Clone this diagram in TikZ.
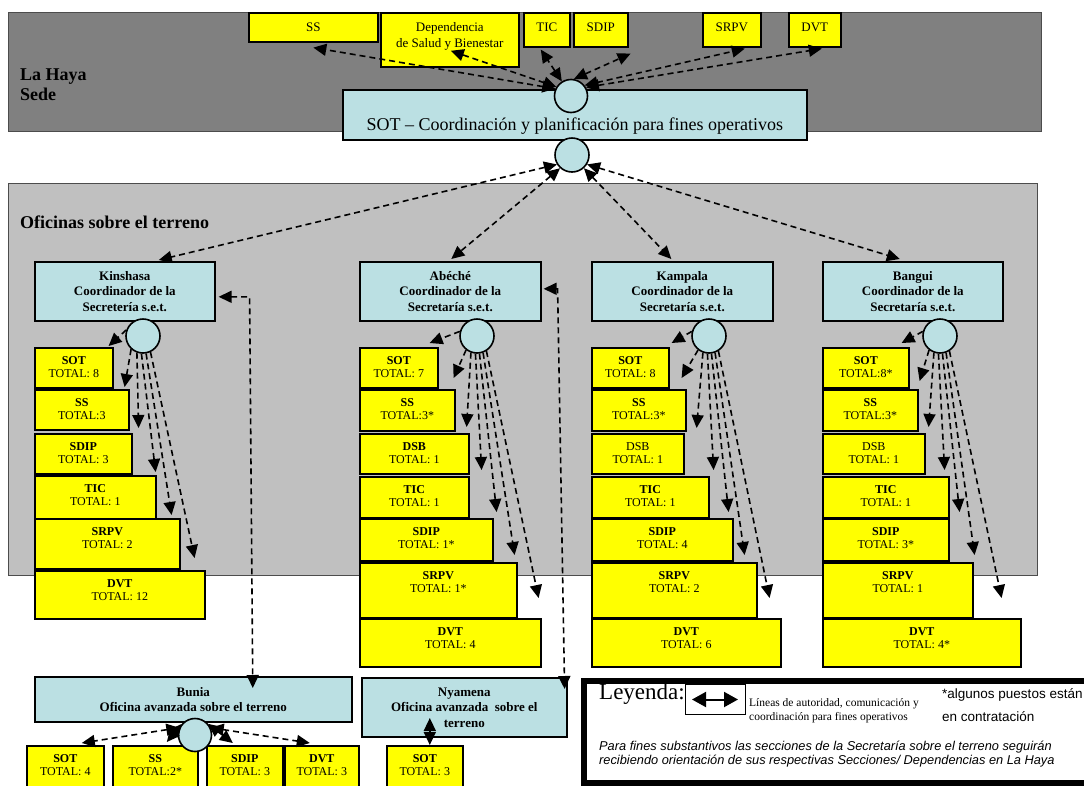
\documentclass[tikz,border=0pt]{standalone}
\usepackage{fontspec}
\setmainfont{Liberation Serif}
\setsansfont{Liberation Sans}
\usetikzlibrary{arrows.meta}

\definecolor{hqgray}{HTML}{808080}
\definecolor{fieldgray}{HTML}{C0C0C0}
\definecolor{paleblue}{HTML}{BBE0E3}
\definecolor{boxyellow}{HTML}{FFFF00}

\tikzset{
  zone/.style={draw=black!70, line width=0.8pt},
  ybox/.style={draw, fill=boxyellow, line width=1.6pt, inner sep=0pt,
    font=\fontsize{12}{13}\selectfont},
  topbox/.style={draw, fill=boxyellow, line width=1.6pt, inner sep=0pt,
    font=\fontsize{13}{16}\selectfont},
  bbox/.style={draw, fill=paleblue, line width=1.6pt, inner sep=0pt, align=center,
    font=\bfseries\fontsize{13}{15.5}\selectfont},
  hub/.style={circle, draw, fill=paleblue, line width=1.6pt, minimum size=33pt, inner sep=0pt},
  link/.style={line width=1.6pt, dash pattern=on 6pt off 4pt,
    -{Triangle[length=13pt,width=12pt]}},
  link2/.style={line width=1.6pt, dash pattern=on 6pt off 4pt,
    {Triangle[length=13pt,width=12pt]}-{Triangle[length=13pt,width=12pt]}},
  zonelabel/.style={anchor=base west, inner sep=0pt, font=\bfseries\fontsize{18}{20}\selectfont},
}

% staff box: name, x, y (top left), width, height, title, total
\newcommand\ybx[7]{\node[ybox, anchor=north west] (#1) at (#2,#3)
  {\parbox[c][#5pt][t]{#4pt}{\centering\rule{0pt}{17pt}#6\\#7}};}
% headquarters section box: name, x, y, width, height, text
\newcommand\tbx[6]{\node[topbox, anchor=north west] (#1) at (#2,#3)
  {\parbox[c][#5pt][t]{#4pt}{\centering\rule{0pt}{19pt}#6}};}
% office coordinator box: name, x, y, width, height, text
\newcommand\cbx[6]{\node[bbox, anchor=north west, minimum width=#4pt, minimum height=#5pt]
  (#1) at (#2,#3) {#6};}
% dashed arrow from a hub to the top right of a staff box
\newcommand\fan[5]{\draw[link] (#1.#2) -- ([xshift=#4pt,yshift=#5pt]#3.north east);}

\begin{document}
\begin{tikzpicture}[x=1pt, y=-1pt]
\useasboundingbox (0,0) rectangle (1084,785);
\clip (0,0) rectangle (1084,785);

% ---------- zones ----------
\draw[zone, fill=hqgray] (8,12) rectangle (1041,131);
\draw[zone, fill=fieldgray] (8,183) rectangle (1037,575);
\node[zonelabel] (hq1) at (20,80) {La Haya};
\node[zonelabel] (hq2) at (20,100) {Sede};
\node[zonelabel] (field) at (20,228) {Oficinas sobre el terreno};

% ---------- headquarters ----------
\tbx{hss}{248}{12}{129}{29}{SS}
\tbx{hdep}{380}{12}{138}{54}{Dependencia\\de Salud y Bienestar}
\tbx{htic}{523}{12}{46}{34}{TIC}
\tbx{hsdip}{573}{12}{54}{34}{SDIP}
\tbx{hsrpv}{702}{12}{58}{34}{SRPV}
\tbx{hdvt}{788}{12}{52}{34}{DVT}

\node[draw, fill=paleblue, line width=1.6pt, inner sep=0pt, anchor=north west,
  font=\fontsize{18}{20}\selectfont] (sot) at (342,89)
  {\parbox[c][50pt][t]{464pt}{\centering\rule{0pt}{41pt}SOT -- Coordinación y planificación para fines operativos}};

\node[hub] (ctop) at (571,96) {};
\node[hub, minimum size=34pt] (clow) at (572,155) {};

\draw[link2] (ctop.155) -- ([yshift=-5pt]hss.south);
\draw[link2] (ctop.148) -- ([xshift=1pt,yshift=-11pt]hdep.center);
\draw[link2] (ctop.122) -- ([xshift=-6pt,yshift=-2pt]htic.south);
\draw[link2] (ctop.80) -- ([xshift=2pt,yshift=-6pt]hsdip.south east);
\draw[link2] (ctop.38) -- ([xshift=13pt,yshift=-1pt]hsrpv.south);
\draw[link2] (ctop.30) -- ([xshift=7pt,yshift=-1pt]hdvt.south);

% ---------- field offices ----------
\cbx{kin}{34}{261}{180}{59}{Kinshasa\\Coordinador de la\\Secretería s.e.t.}
\cbx{abe}{359}{261}{181}{59}{Abéché\\Coordinador de la\\Secretaría s.e.t.}
\cbx{kam}{591}{261}{181}{59}{Kampala\\Coordinador de la\\Secretaría s.e.t.}
\cbx{ban}{822}{261}{180}{59}{Bangui\\Coordinador de la\\Secretaría s.e.t.}

\draw[link2] (clow.212) -- ([xshift=34pt,yshift=1pt]kin.north);
\draw[link2] (clow.228) -- ([xshift=1pt,yshift=2pt]abe.north);
\draw[link2] (clow.312) -- ([xshift=-11pt,yshift=2pt]kam.north);
\draw[link2] (clow.328) -- ([xshift=-13pt,yshift=2pt]ban.north);

% Kinshasa
\ybx{ksot}{34}{347}{78}{40}{\textbf{SOT}}{TOTAL: 8}
\ybx{kss}{34}{389}{94}{40}{\textbf{SS}}{TOTAL:3}
\ybx{ksdip}{34}{433}{97}{40}{\textbf{SDIP}}{TOTAL: 3}
\ybx{ktic}{34}{475}{121}{47}{\textbf{TIC}}{TOTAL: 1}
\ybx{ksrpv}{34}{518}{145}{50}{\textbf{SRPV}}{TOTAL: 2}
\ybx{kdvt}{34}{570}{170}{48}{\textbf{DVT}}{TOTAL: 12}

% Abeche
\ybx{asot}{359}{347}{78}{40}{\textbf{SOT}}{TOTAL: 7}
\ybx{ass}{359}{389}{95}{41}{\textbf{SS}}{TOTAL:3*}
\ybx{adsb}{359}{433}{109}{40}{\textbf{DSB}}{TOTAL: 1}
\ybx{atic}{359}{476}{109}{41}{\textbf{TIC}}{TOTAL: 1}
\ybx{asdip}{359}{518}{133}{42}{\textbf{SDIP}}{TOTAL: 1*}
\ybx{asrpv}{359}{562}{157}{55}{\textbf{SRPV}}{TOTAL: 1*}
\ybx{advt}{359}{618}{181}{48}{\textbf{DVT}}{TOTAL: 4}

% Kampala
\ybx{psot}{591}{347}{77}{40}{\textbf{SOT}}{TOTAL: 8}
\ybx{pss}{591}{389}{94}{41}{\textbf{SS}}{TOTAL:3*}
\ybx{pdsb}{591}{433}{92}{40}{DSB}{TOTAL: 1}
\ybx{ptic}{591}{476}{117}{41}{\textbf{TIC}}{TOTAL: 1}
\ybx{psdip}{591}{518}{141}{42}{\textbf{SDIP}}{TOTAL: 4}
\ybx{psrpv}{591}{562}{165}{55}{\textbf{SRPV}}{TOTAL: 2}
\ybx{pdvt}{591}{618}{189}{48}{\textbf{DVT}}{TOTAL: 6}

% Bangui
\ybx{bsot}{822}{347}{86}{40}{\textbf{SOT}}{TOTAL:8*}
\ybx{bss}{822}{389}{95}{41}{\textbf{SS}}{TOTAL:3*}
\ybx{bdsb}{822}{433}{102}{40}{DSB}{TOTAL: 1}
\ybx{btic}{822}{476}{126}{41}{\textbf{TIC}}{TOTAL: 1}
\ybx{bsdip}{822}{518}{126}{42}{\textbf{SDIP}}{TOTAL: 3*}
\ybx{bsrpv}{822}{562}{150}{55}{\textbf{SRPV}}{TOTAL: 1}
\ybx{bdvt}{822}{618}{198}{48}{\textbf{DVT}}{TOTAL: 4*}

% hubs of the field offices
\node[hub, minimum size=34pt] (ck) at (143,336) {};
\node[hub, minimum size=34pt] (ca) at (477,336) {};
\node[hub, minimum size=34pt] (cp) at (709,336) {};
\node[hub, minimum size=34pt] (cb) at (940,336) {};

\fan{ck}{160}{ksot}{-5}{1}
\fan{ck}{228}{kss}{-5}{2}
\fan{ck}{250}{ksdip}{6}{5}
\fan{ck}{265}{ktic}{-1}{3}
\fan{ck}{280}{ksrpv}{-9}{3}
\fan{ck}{295}{kdvt}{-11}{12}

\fan{ca}{165}{asot}{-9}{4}
\fan{ca}{232}{ass}{-2}{11}
\fan{ca}{250}{adsb}{-3}{6}
\fan{ca}{265}{atic}{12}{6}
\fan{ca}{278}{asdip}{3}{6}
\fan{ca}{290}{asrpv}{-3}{7}
\fan{ca}{302}{advt}{-3}{20}

\fan{cp}{165}{psot}{2}{4}
\fan{cp}{232}{pss}{-5}{11}
\fan{cp}{250}{pdsb}{12}{5}
\fan{cp}{265}{ptic}{4}{6}
\fan{cp}{278}{psdip}{-5}{6}
\fan{cp}{290}{psrpv}{-13}{7}
\fan{cp}{302}{pdvt}{-12}{20}

\fan{cb}{165}{bsot}{-8}{4}
\fan{cb}{232}{bss}{1}{8}
\fan{cb}{250}{bdsb}{3}{6}
\fan{cb}{265}{btic}{-5}{6}
\fan{cb}{278}{bsdip}{10}{6}
\fan{cb}{290}{bsrpv}{1}{7}
\fan{cb}{302}{bdvt}{-20}{20}

% ---------- forward offices ----------
\cbx{bun}{34}{676}{317}{45}{Bunia\\Oficina avanzada sobre el terreno}
\cbx{nya}{361}{677}{205}{59}{Nyamena\\Oficina avanzada~ sobre el\\terreno}

\draw[link2] ([xshift=3pt,yshift=-5.5pt]kin.east) -- ++(31,0)
  -- ([xshift=59.5pt,yshift=-12pt]bun.north);
\draw[link2] ([xshift=2pt,yshift=2.5pt]abe.east) -- ++(14,0)
  -- ([xshift=-3pt,yshift=-12pt]nya.north east);

\ybx{usot}{26}{745}{77}{60}{\textbf{SOT}}{TOTAL: 4}
\ybx{uss}{112}{745}{85}{60}{\textbf{SS}}{TOTAL:2*}
\ybx{usdip}{206}{745}{76}{60}{\textbf{SDIP}}{TOTAL: 3}
\ybx{udvt}{284}{745}{74}{60}{\textbf{DVT}}{TOTAL: 3}
\ybx{nsot}{386}{745}{76}{60}{\textbf{SOT}}{TOTAL: 3}

\node[hub] (cu) at (195,735) {};
\draw[link2] (cu.155) -- ([xshift=16.5pt,yshift=2pt]usot.north);
\draw[link2] (cu.140) -- ([xshift=11.5pt,yshift=3pt]uss.north);
\draw[link2] (cu.40) -- ([xshift=-12pt,yshift=2pt]usdip.north);
\draw[link2] (cu.25) -- ([xshift=-12pt,yshift=2pt]udvt.north);

\draw[link2, solid] ([xshift=5pt]nsot.north) -- ([xshift=5pt,yshift=27pt]nsot.north);

% ---------- legend ----------
\node[draw, line width=6pt, fill=white, minimum width=522pt, minimum height=102pt,
  inner sep=0pt, anchor=north west] (legend) at (581,678) {};
\node[anchor=base west, inner sep=0pt, font=\fontsize{23}{26}\selectfont] (legtitle) at (599,699) {Leyenda:};
\node[draw, line width=1pt, minimum width=60pt, minimum height=30pt, inner sep=0pt,
  anchor=north west] (lgkey) at (685,684) {};
\draw[line width=2pt, {Triangle[length=14pt,width=15pt]}-{Triangle[length=14pt,width=15pt]}]
  ([xshift=7pt]lgkey.west) -- ([xshift=-8pt]lgkey.east);
\node[anchor=base west, inner sep=0pt, font=\fontsize{11.5}{14}\selectfont] (legl1) at (749,706)
  {Líneas de autoridad, comunicación y};
\node[anchor=base west, inner sep=0pt, font=\fontsize{11.5}{14}\selectfont] (legl2) at (749,720)
  {coordinación para fines operativos};
\node[anchor=base west, inner sep=0pt, font=\sffamily\fontsize{13.5}{16}\selectfont] (legs1) at (942,698)
  {*algunos puestos están};
\node[anchor=base west, inner sep=0pt, font=\sffamily\fontsize{13.5}{16}\selectfont] (legs2) at (942,721)
  {en contratación};
\node[anchor=base west, inner sep=0pt, font=\sffamily\itshape\fontsize{12.8}{15}\selectfont] (legi1) at (599,750)
  {Para fines substantivos las secciones de la Secretaría sobre el terreno seguirán};
\node[anchor=base west, inner sep=0pt, font=\sffamily\itshape\fontsize{12.8}{15}\selectfont] (legi2) at (599,764)
  {recibiendo orientación de sus respectivas Secciones/ Dependencias en La Haya};
\end{tikzpicture}
\end{document}
